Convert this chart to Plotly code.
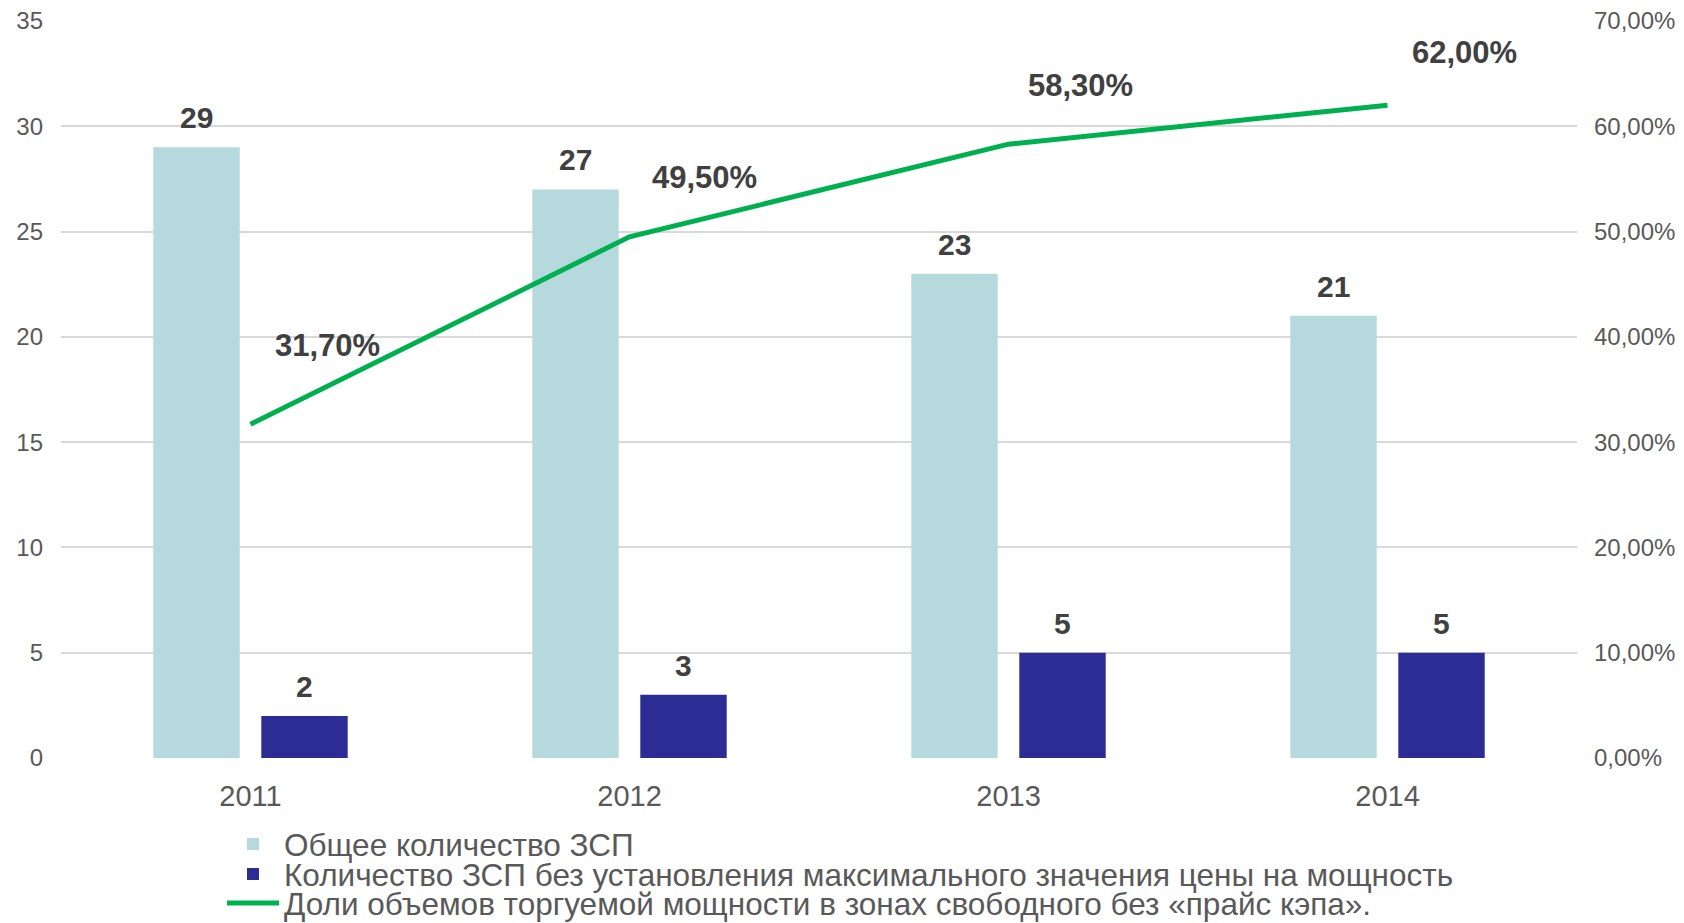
import plotly.graph_objects as go

years = ["2011", "2012", "2013", "2014"]
total_zsp = [29, 27, 23, 21]
zsp_no_cap = [2, 3, 5, 5]
share_no_cap = [0.317, 0.495, 0.583, 0.620]

name_total = "Общее количество ЗСП"
name_nocap = "Количество ЗСП без установления максимального значения цены на мощность"
name_share = "Доли объемов торгуемой мощности в зонах свободного без «прайс кэпа»."

# style / layout
W, H = 1684, 923
ML, MR, MT, MB = 61, 107, 21, 165
BARGAP, BARGROUPGAP = 0.43, 0.2
LIGHT = "#b6d9dd"
DARK = "#2d2c95"
GREEN = "#00b050"
LABEL = "#404040"
TICK = "#595959"
FONT = "Liberation Sans, Arial, sans-serif"

plot_w = W - ML - MR
cat_w = plot_w / len(years)
bar_off = (1 - BARGAP) * cat_w / 4  # pixel offset of each bar from category center

# per-label pixel offsets for the line labels (above-right of the point)
line_label_dx = [77, 75, 72, 77]
line_label_dy = [79, 59, 59, 53]

fig = go.Figure()
fig.add_trace(go.Bar(x=years, y=total_zsp, name=name_total,
                     marker=dict(color=LIGHT, line=dict(width=0)),
                     legend="legend"))
fig.add_trace(go.Bar(x=years, y=zsp_no_cap, name=name_nocap,
                     marker=dict(color=DARK, line=dict(width=0)),
                     legend="legend2"))
fig.add_trace(go.Scatter(x=years, y=share_no_cap, name=name_share, yaxis="y2",
                         mode="lines", line=dict(color=GREEN, width=5),
                         legend="legend3"))

annotations = []
for i, v in enumerate(total_zsp):
    annotations.append(dict(x=i, y=v, xref="x", yref="y", text=f"<b>{v}</b>",
                            showarrow=False, yanchor="bottom", xshift=-bar_off, yshift=11,
                            font=dict(family=FONT, size=30, color=LABEL)))
for i, v in enumerate(zsp_no_cap):
    annotations.append(dict(x=i, y=v, xref="x", yref="y", text=f"<b>{v}</b>",
                            showarrow=False, yanchor="bottom", xshift=bar_off, yshift=11,
                            font=dict(family=FONT, size=30, color=LABEL)))
for i, (v, dx, dy) in enumerate(zip(share_no_cap, line_label_dx, line_label_dy)):
    txt = f"{v*100:.2f}".replace(".", ",") + "%"
    annotations.append(dict(x=i, y=v, xref="x", yref="y2", text=f"<b>{txt}</b>",
                            showarrow=False, xanchor="center", yanchor="middle",
                            xshift=dx, yshift=dy,
                            font=dict(family=FONT, size=31, color=LABEL)))

leg_common = dict(xref="container", yref="container",
                  x=222 / W, xanchor="left", yanchor="middle",
                  bgcolor="rgba(0,0,0,0)", borderwidth=0, itemwidth=52,
                  font=dict(family=FONT, size=31.5, color=TICK), tracegroupgap=0,
                  itemclick=False, itemdoubleclick=False)
def ly(py):
    return (H - py) / H

fig.update_layout(
    width=W, height=H,
    margin=dict(l=ML, r=MR, t=MT, b=MB, pad=0, autoexpand=False),
    paper_bgcolor="white", plot_bgcolor="white",
    separators=", ",
    barmode="group", bargap=BARGAP, bargroupgap=BARGROUPGAP,
    font=dict(family=FONT, color=TICK),
    showlegend=True,
    legend=dict(**leg_common, y=ly(844)),
    legend2=dict(**leg_common, y=ly(874)),
    legend3=dict(**leg_common, y=ly(903)),
    xaxis=dict(type="category", range=[-0.5, len(years) - 0.5], autorange=False,
               showgrid=False, showline=False, ticks="",
               tickfont=dict(family=FONT, size=29, color=TICK),
               ticklabelstandoff=18),
    yaxis=dict(range=[0, 35], dtick=5, showgrid=True, gridcolor="#d9d9d9", gridwidth=2,
               zeroline=False, showline=False, ticks="",
               tickfont=dict(family=FONT, size=24, color=TICK),
               ticklabelstandoff=17),
    yaxis2=dict(range=[0, 0.7], dtick=0.1, tickformat=".2%", overlaying="y", side="right",
                showgrid=False, zeroline=False, showline=False, ticks="",
                tickfont=dict(family=FONT, size=24, color=TICK),
                ticklabelstandoff=16),
    annotations=annotations,
)

fig.write_html("out.html", config={"displayModeBar": False},
               post_script="document.body.style.margin='0px';document.body.style.overflow='hidden';")
